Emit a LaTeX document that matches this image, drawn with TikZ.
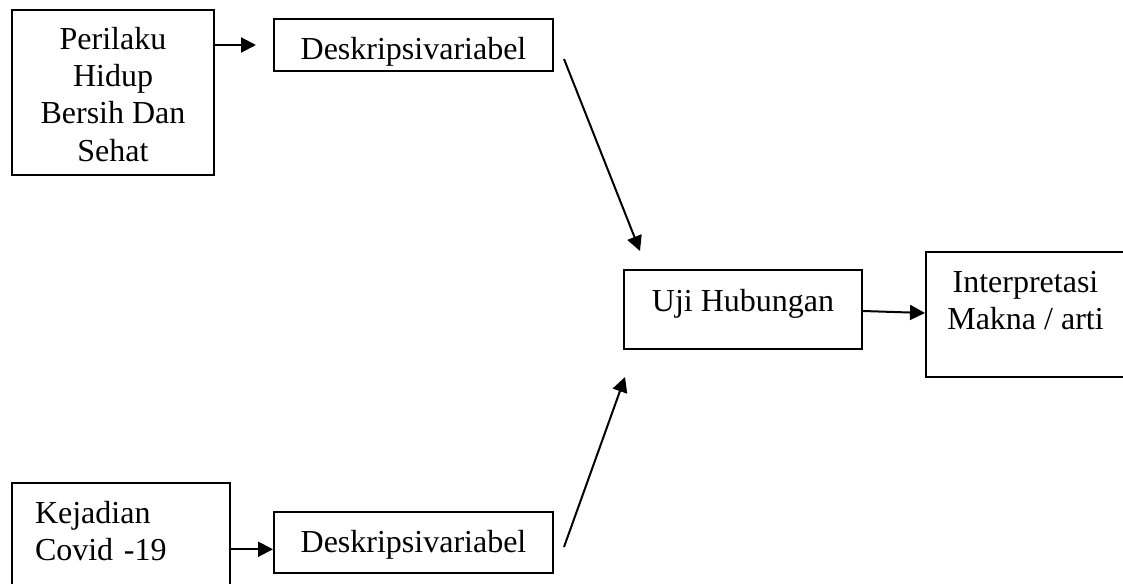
\documentclass[tikz,border=0pt]{standalone}
\usepackage{fontspec}
\setmainfont{Liberation Serif}
\usetikzlibrary{arrows.meta}

\begin{document}
\begin{tikzpicture}[x=0.5pt, y=-0.5pt,
        box/.style = {draw, line width=1pt, inner sep=0pt, anchor=base, font=\fontsize{16}{18.5}\selectfont},
        link/.style = {line width=1pt, -{Triangle[length=7.5pt, width=7.5pt]}}]
            \useasboundingbox (0,0) rectangle (1123,583);

            \node[box, minimum width=101pt, text height=75.5pt, text depth=7pt, align=center] (PHBS) at (113,161) {Perilaku\\Hidup\\Bersih Dan\\Sehat};
            \node[box, minimum width=139.5pt, text height=20.5pt, text depth=5.5pt] (Desk1) at (413.5,60) {Deskripsivariabel};

            \node[box, minimum width=119pt, text height=20.5pt, text depth=19pt] (Uji) at (743,311) {Uji Hubungan};
            \node[box, minimum width=99.5pt, text height=38.5pt, text depth=24pt, align=center] (Interp) at (1025.5,329) {Interpretasi\\Makna / arti};

            \node[box, minimum width=109pt, text width=86pt, text height=20pt, text depth=42.5pt, align=left] (Covid) at (121,523) {Kejadian\\Covid -19};
            \node[box, minimum width=139.5pt, text height=20.25pt, text depth=10.5pt] (Desk2) at (413.5,552) {Deskripsivariabel};

            % free ends of the two slanted arrows
            \coordinate (topStart) at (564,59);
            \coordinate (topEnd) at (640,251);
            \coordinate (botStart) at (564,547);
            \coordinate (botEnd) at (625,377);
            \coordinate (covidIn) at ([yshift=-3.5pt]Desk2.west);

            \path[link, shorten >=8.5pt] (PHBS.east |- Desk1.west) edge (Desk1.west);
            \path[link] (Covid.east |- covidIn) edge (covidIn);

            \path[link] (topStart) edge (topEnd);
            \path[link] (botStart) edge (botEnd);

            \path[link] ([yshift=-0.75pt]Uji.east) edge ([yshift=0.75pt]Interp.west);
        \end{tikzpicture}
\end{document}
